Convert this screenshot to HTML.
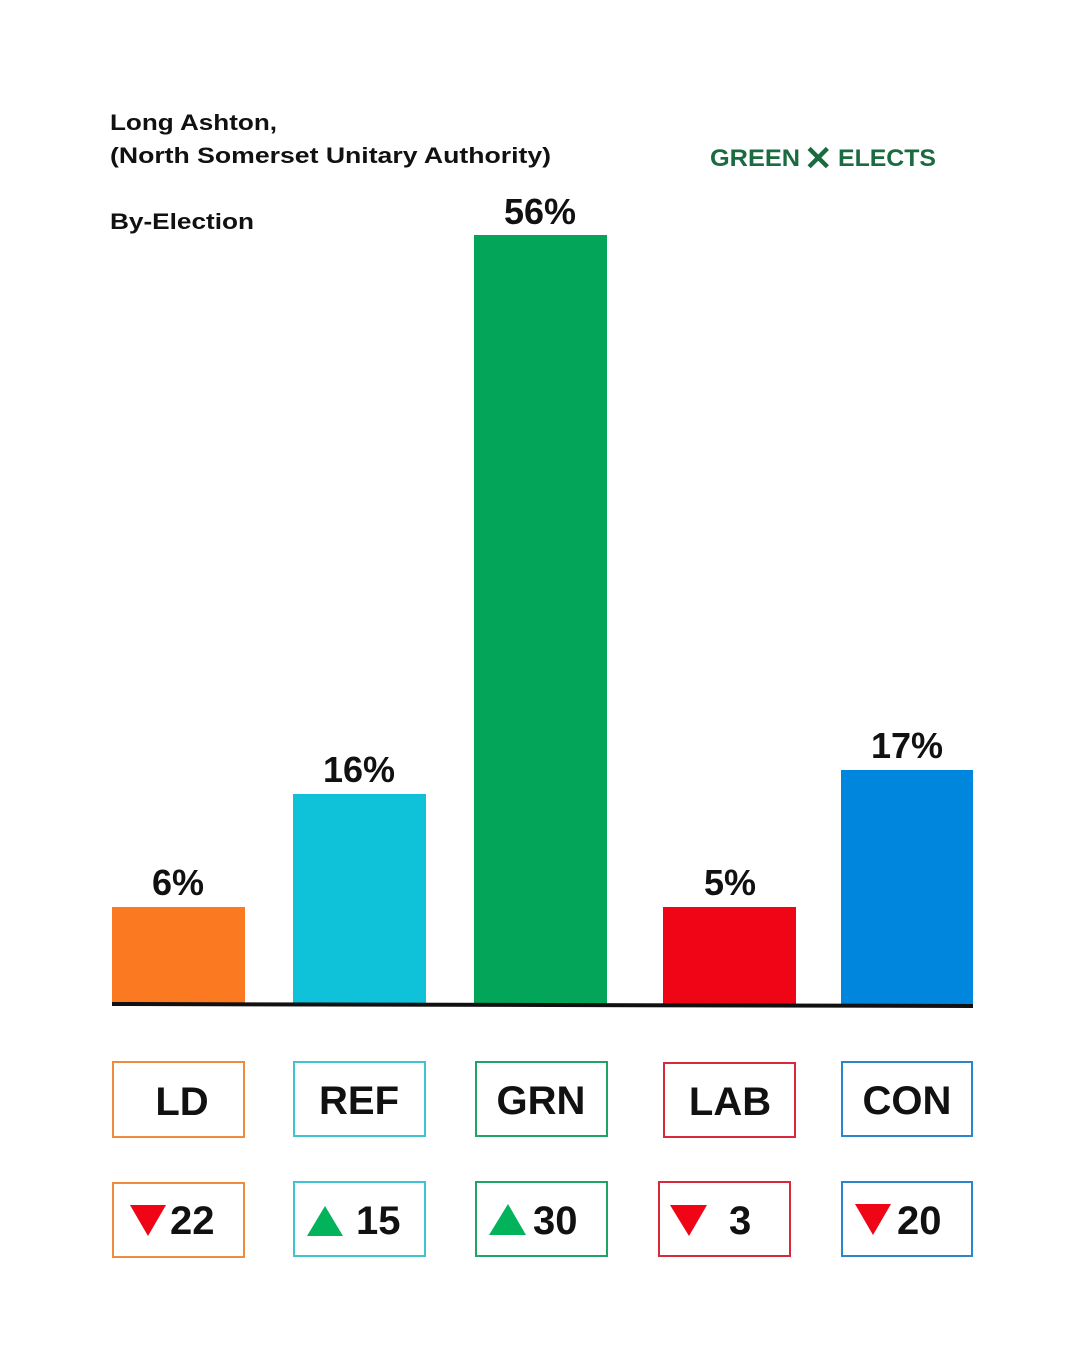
<!DOCTYPE html>
<html><head><meta charset="utf-8"><style>
html,body{margin:0;padding:0;background:#fff;}
svg{display:block;}
text{font-family:"Liberation Sans",sans-serif;font-weight:bold;}
</style></head><body>
<svg width="1080" height="1350" viewBox="0 0 1080 1350" xmlns="http://www.w3.org/2000/svg">
<rect width="1080" height="1350" fill="#fff"/>
<text x="110" y="130" font-size="22" fill="#111" textLength="167" lengthAdjust="spacingAndGlyphs">Long Ashton,</text>
<text x="110" y="163" font-size="22" fill="#111" textLength="441" lengthAdjust="spacingAndGlyphs">(North Somerset Unitary Authority)</text>
<text x="110" y="229" font-size="22" fill="#111" textLength="144" lengthAdjust="spacingAndGlyphs">By-Election</text>
<text x="710" y="166" font-size="24" fill="#1a6b3f" textLength="90" lengthAdjust="spacingAndGlyphs">GREEN</text>
<text x="804" y="170" font-size="34" fill="#1a6b3f">✕</text>
<text x="838" y="166" font-size="24" fill="#1a6b3f" textLength="98" lengthAdjust="spacingAndGlyphs">ELECTS</text>

<rect x="112" y="907" width="133" height="97" fill="#fb7a21"/>
<rect x="293" y="794" width="133" height="210" fill="#0fc1d9"/>
<rect x="474" y="235" width="133" height="769" fill="#03a659"/>
<rect x="663" y="907" width="133" height="97" fill="#ef0516"/>
<rect x="841" y="770" width="132" height="235" fill="#0086dc"/>
<polygon points="112,1002 973,1004 973,1008 112,1006" fill="#111"/>

<g font-size="36" fill="#111" text-anchor="middle">
<text x="178" y="895">6%</text>
<text x="359" y="782">16%</text>
<text x="540" y="224">56%</text>
<text x="730" y="895">5%</text>
<text x="907" y="758">17%</text>
</g>

<g fill="none" stroke-width="2">
<rect x="113" y="1062" width="131" height="75" stroke="#f08a3c"/>
<rect x="294" y="1062" width="131" height="74" stroke="#3fc3d3"/>
<rect x="476" y="1062" width="131" height="74" stroke="#1fa463"/>
<rect x="664" y="1063" width="131" height="74" stroke="#d9283a"/>
<rect x="842" y="1062" width="130" height="74" stroke="#2a86c8"/>
<rect x="113" y="1183" width="131" height="74" stroke="#f08a3c"/>
<rect x="294" y="1182" width="131" height="74" stroke="#3fc3d3"/>
<rect x="476" y="1182" width="131" height="74" stroke="#1fa463"/>
<rect x="659" y="1182" width="131" height="74" stroke="#d9283a"/>
<rect x="842" y="1182" width="130" height="74" stroke="#2a86c8"/>
</g>

<g font-size="40" fill="#111" text-anchor="middle">
<text x="182" y="1115">LD</text>
<text x="359" y="1114">REF</text>
<text x="541" y="1114">GRN</text>
<text x="730" y="1115">LAB</text>
<text x="907" y="1114">CON</text>
</g>

<polygon points="130,1205 166,1205 148,1236" fill="#ef0516"/>
<polygon points="307,1236 343,1236 325,1206" fill="#03b35c"/>
<polygon points="489,1235 526,1235 508,1204" fill="#03b35c"/>
<polygon points="670,1205 707,1205 689,1236" fill="#ef0516"/>
<polygon points="855,1204 891,1204 873,1235" fill="#ef0516"/>

<g font-size="40" fill="#111">
<text x="170" y="1234">22</text>
<text x="356" y="1234">15</text>
<text x="533" y="1234">30</text>
<text x="729" y="1234">3</text>
<text x="897" y="1234">20</text>
</g>
</svg>
</body></html>
